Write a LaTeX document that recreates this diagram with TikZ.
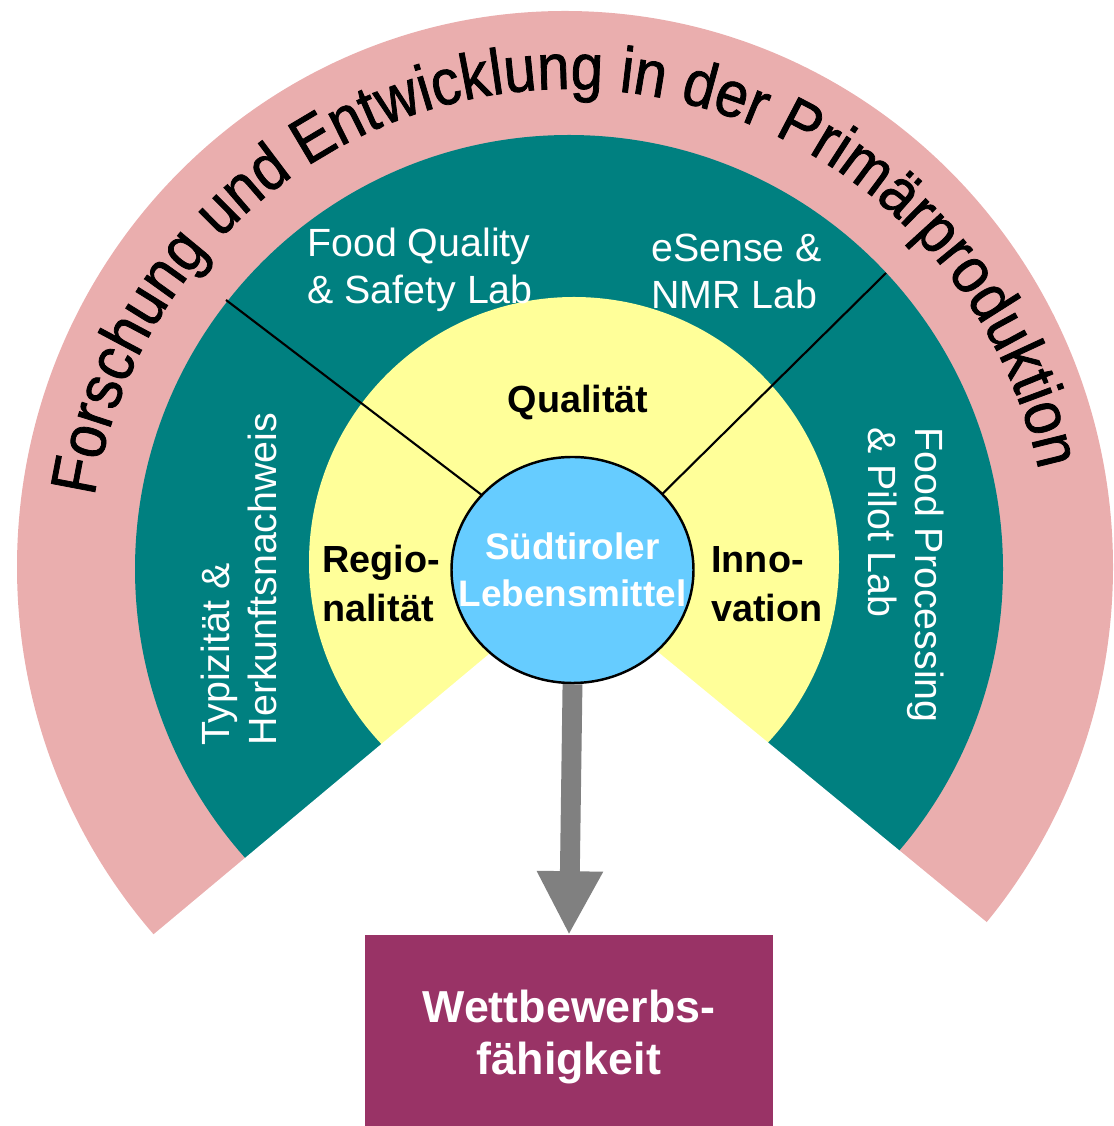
\documentclass[tikz,border=0pt]{standalone}
\usepackage{fontspec}
\setmainfont{Liberation Sans}
\newfontfamily\arcfont[FakeStretch=0.9,FakeBold=1.2]{Liberation Sans}
\usetikzlibrary{shapes.geometric,arrows.meta,decorations.text}
\definecolor{ringpink}{HTML}{EAAEAE}
\definecolor{ringteal}{HTML}{008080}
\definecolor{ringyellow}{HTML}{FFFF99}
\definecolor{corebl}{HTML}{66CCFF}
\definecolor{boxpurple}{HTML}{993366}
\definecolor{arrowgray}{HTML}{808080}
\newcommand\arcstyle{\arcfont\fontsize{36.8}{44}\selectfont}
\begin{document}
\begin{tikzpicture}[x=0.02cm, y=0.02cm,
  labreg/.style={text=white, inner sep=0pt, align=left, font=\fontsize{22.4}{26.6}\selectfont},
  labbold/.style={text=black, inner sep=0pt, align=left, font=\bfseries\fontsize{21.5}{27.8}\selectfont},
  divider/.style={draw=black, line width=1.2pt},
]
\useasboundingbox (0,0) rectangle (1113,1126);

% concentric rings
\fill[ringpink] (565,559) ellipse [x radius=548, y radius=556];
\fill[ringteal] (569,557) circle [radius=434];
\fill[ringyellow] (574,564) circle [radius=265];

% open wedge below the core
\coordinate (apex) at (574,543);
\fill[white] (apex) -- (-96,-17) -- (1248,-11) -- cycle;

% title along the outer ring
\path[decorate, decoration={text along path, text align=center,
    text={|\arcstyle|Forschung und Entwicklung in der Primärproduktion}}]
  (569,557) ++(191.6:480) arc[start angle=191.6, end angle=-8.4, radius=480];

% sector dividers
\coordinate (dl1) at (226,826);
\coordinate (dl2) at (508,611);
\coordinate (dr1) at (886,853);
\coordinate (dr2) at (641,611);
\draw[divider] (dl1) -- (dl2);
\draw[divider] (dr1) -- (dr2);

% core
\node[ellipse, draw=black, line width=1.4pt, fill=corebl, inner sep=0pt,
      minimum width=242*0.02cm, minimum height=226*0.02cm] (core) at (572.5,556) {};
\node[text=white, inner sep=0pt, align=center,
      font=\bfseries\fontsize{21}{26.6}\selectfont] (coretext) at (core.center) {Südtiroler\\Lebensmittel};

% result box
\node[fill=boxpurple, inner sep=0pt, anchor=north,
      minimum width=408*0.02cm, minimum height=192*0.02cm] (box) at (569,191) {};
\node[text=white, inner sep=0pt, align=center,
      font=\bfseries\fontsize{25.5}{30}\selectfont] (boxlabel) at (569,89) {Wettbewerbs-\\fähigkeit};

\draw[arrowgray, line width=11.3pt, -{Triangle[length=36.3pt 0 0, width=35.1pt 0 0]}]
  (core.south) -- (box.north);

% lab labels
\node[labreg, anchor=west] (fqs) at (307,856.5) {Food Quality\\\& Safety Lab};
\node[labreg, anchor=west] (esense) at (651,854.5) {eSense \&\\NMR Lab};
\node[labreg, rotate=90] (typ) at (239,547) {Typizität \&\\Herkunftsnachweis};
\node[labreg, rotate=-90] (fpp) at (906,551) {Food Processing\\\& Pilot Lab};

% topic labels
\node[labbold, anchor=base] (qual) at (578,713) {Qualität};
\node[labbold, anchor=west] (reg) at (322,542.5) {Regio-\\nalität};
\node[labbold, anchor=west] (inno) at (711,542) {Inno-\\vation};
\end{tikzpicture}
\end{document}
